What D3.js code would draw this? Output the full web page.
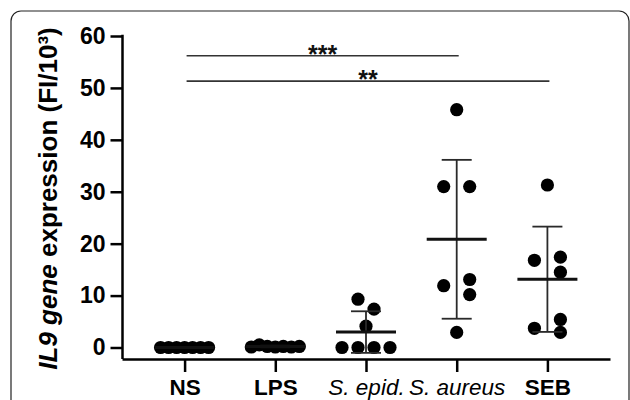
<!DOCTYPE html>
<html>
<head>
<meta charset="utf-8">
<script src="https://cdn.jsdelivr.net/npm/d3@7"></script>
<style>
  html, body { margin: 0; padding: 0; background: #fff; }
  svg { display: block; font-family: "Liberation Sans", Arial, sans-serif; }
</style>
</head>
<body>
<div id="chart"></div>
<script>
// groups on the x axis
const categories = ["NS", "LPS", "S. epid.", "S. aureus", "SEB"];

// IL9 gene expression (FI/10^3), one value per donor
const nsValues = [0, 0, 0, 0, 0, 0, 0];
const lpsValues = [0.1, 0.5, 0.2, 0.1, 0.2, 0.1, 0.2];
const sEpidValues = [9.3, 7.4, 4.1, 0, 0, 0, 0];
const sAureusValues = [45.8, 31.0, 31.0, 11.9, 13.1, 10.2, 2.9];
const sebValues = [31.3, 17.4, 16.8, 14.5, 5.4, 3.7, 2.9];

const yTicks = [0, 10, 20, 30, 40, 50, 60];

// significance brackets
const sigFrom = ["NS", "NS"];
const sigTo = ["S. aureus", "SEB"];
const sigLevel = [56.2, 51.3];
const sigLabel = ["***", "**"];

const groups = categories.map((c, i) => ({
  name: c,
  values: [nsValues, lpsValues, sEpidValues, sAureusValues, sebValues][i]
}));

const width = 630, height = 400;
const italicLabels = new Set(["S. epid.", "S. aureus"]);
const r = 6.6;

const svg = d3.select("#chart").append("svg")
  .attr("width", width)
  .attr("height", height);

// panel frame
svg.append("rect")
  .attr("x", 11).attr("y", 11)
  .attr("width", 618).attr("height", 480)
  .attr("rx", 10)
  .attr("fill", "none")
  .attr("stroke", "#222")
  .attr("stroke-width", 1.2);

const x = d3.scalePoint().domain(categories).range([122, 610]).padding(0.69);
const y = d3.scaleLinear().domain([0, 60]).range([347.5, 36]);
const xAxisY = 359;

// GraphPad style dot layout: rows for tied values, alternate sides for near values
function swarmOffsets(vals) {
  const order = d3.range(vals.length).sort((a, b) => vals[a] - vals[b] || a - b);
  const clusters = [];
  let cur = [];
  order.forEach((i, k) => {
    if (k > 0 && (y(vals[order[k - 1]]) - y(vals[i])) >= 2 * r) {
      clusters.push(cur); cur = [];
    }
    cur.push(i);
  });
  if (cur.length) clusters.push(cur);
  const off = new Array(vals.length).fill(0);
  clusters.forEach(cl => {
    const n = cl.length;
    if (n === 1) return;
    const spread = (d3.max(cl, i => vals[i]) - d3.min(cl, i => vals[i])) * (y(0) - y(1));
    if (spread < 3) {
      const step = Math.min(26, 48 / (n - 1));
      cl.slice().sort((a, b) => a - b).forEach((i, j) => { off[i] = (j - (n - 1) / 2) * step; });
    } else {
      const s = n === 2 ? 8 : 13;
      cl.forEach((i, j) => { off[i] = j % 2 === 0 ? s : -s; });
    }
  });
  return off;
}

// dots
groups.forEach(g => {
  const off = swarmOffsets(g.values);
  svg.append("g").selectAll("circle")
    .data(g.values)
    .join("circle")
    .attr("cx", (d, i) => x(g.name) + off[i])
    .attr("cy", d => y(d))
    .attr("r", r)
    .attr("fill", "#000");
});

// mean and SD
const stats = groups.map(g => ({
  name: g.name,
  mean: d3.mean(g.values),
  sd: d3.deviation(g.values) || 0
}));

const bars = svg.append("g").attr("stroke", "#2a2a2a").attr("stroke-width", 1.8);
stats.forEach(s => {
  const cx = x(s.name);
  bars.append("line")
    .attr("x1", cx).attr("x2", cx)
    .attr("y1", y(s.mean - s.sd)).attr("y2", y(s.mean + s.sd));
  [s.mean - s.sd, s.mean + s.sd].forEach(v => {
    bars.append("line")
      .attr("x1", cx - 15).attr("x2", cx + 15)
      .attr("y1", y(v)).attr("y2", y(v));
  });
});

svg.append("g").selectAll("line")
  .data(stats)
  .join("line")
  .attr("x1", d => x(d.name) - 30)
  .attr("x2", d => x(d.name) + 30)
  .attr("y1", d => y(d.mean))
  .attr("y2", d => y(d.mean))
  .attr("stroke", "#111")
  .attr("stroke-width", 3);

// axes
const yAxis = svg.append("g")
  .attr("transform", "translate(122.5,0)")
  .call(d3.axisLeft(y).tickValues(yTicks).tickSize(12).tickPadding(5).tickFormat(d3.format("d")));
yAxis.select(".domain").remove();
yAxis.selectAll(".tick line").attr("stroke", "#000").attr("stroke-width", 2.5);
yAxis.selectAll("text")
  .attr("fill", "#000")
  .style("font-size", "23px")
  .style("font-weight", "bold");
yAxis.append("line")
  .attr("x1", 0).attr("x2", 0)
  .attr("y1", y(60) - 1.2).attr("y2", xAxisY)
  .attr("stroke", "#000").attr("stroke-width", 2.5);

const xAxis = svg.append("g")
  .attr("transform", `translate(0,${xAxisY})`)
  .call(d3.axisBottom(x).tickSize(13).tickSizeOuter(0).tickPadding(7.5));
xAxis.select(".domain").attr("stroke", "#000").attr("stroke-width", 2.5);
xAxis.selectAll(".tick line").attr("stroke", "#000").attr("stroke-width", 2.5);
xAxis.selectAll("text")
  .attr("fill", "#000")
  .style("font-size", "22.5px")
  .style("font-weight", d => italicLabels.has(d) ? "normal" : "bold")
  .style("font-style", d => italicLabels.has(d) ? "italic" : "normal");

// y axis title
const title = svg.append("text")
  .attr("transform", `translate(57,${(30 + 367) / 2}) rotate(-90)`)
  .attr("text-anchor", "middle")
  .style("font-size", "26px")
  .style("font-weight", "bold")
  .attr("fill", "#000");
title.append("tspan").style("font-style", "italic").text("IL9 gene");
title.append("tspan").text(" expression (FI/10³)");

// significance bars
sigLabel.forEach((lab, i) => {
  const x1 = x(sigFrom[i]) + 2, x2 = x(sigTo[i]) + 2;
  svg.append("line")
    .attr("x1", x1).attr("x2", x2)
    .attr("y1", y(sigLevel[i])).attr("y2", y(sigLevel[i]))
    .attr("stroke", "#333").attr("stroke-width", 1.6);
  svg.append("text")
    .attr("x", (x1 + x2) / 2)
    .attr("y", y(sigLevel[i]) + 7)
    .attr("text-anchor", "middle")
    .style("font-size", "25px")
    .style("font-weight", "bold")
    .attr("fill", "#111")
    .text(lab);
});
</script>
</body>
</html>
